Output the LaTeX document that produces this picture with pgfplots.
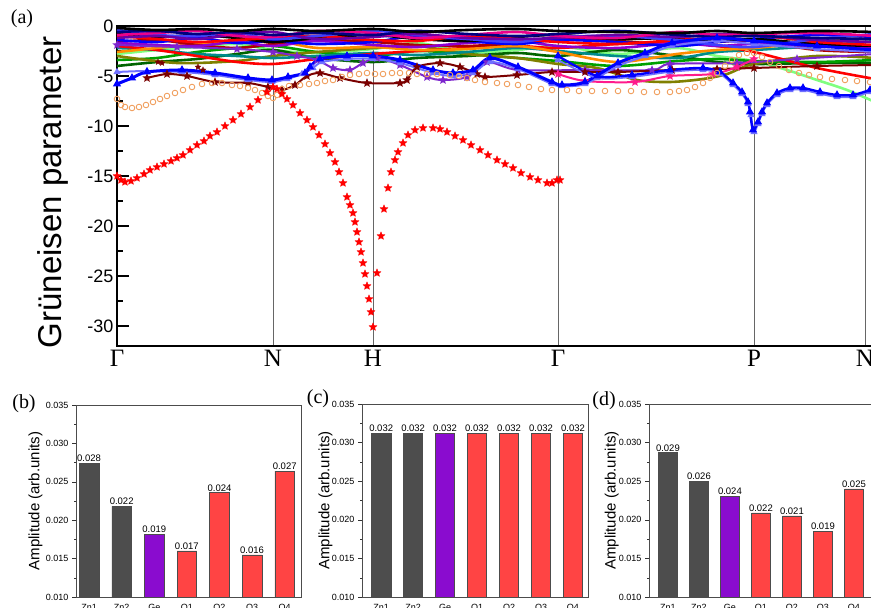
\documentclass[border=0pt]{standalone}
\usepackage{fontspec}
\setmainfont{Liberation Serif}
\newfontfamily\arial{Liberation Sans}
\usepackage{pgfplots}
\pgfplotsset{compat=1.18}
\usetikzlibrary{plotmarks}

\pgfdeclareplotmark{fstar}{%
  \pgfpathmoveto{\pgfpointpolar{90}{\pgfplotmarksize}}%
  \pgfpathlineto{\pgfpointpolar{126}{0.45\pgfplotmarksize}}%
  \pgfpathlineto{\pgfpointpolar{162}{\pgfplotmarksize}}%
  \pgfpathlineto{\pgfpointpolar{198}{0.45\pgfplotmarksize}}%
  \pgfpathlineto{\pgfpointpolar{234}{\pgfplotmarksize}}%
  \pgfpathlineto{\pgfpointpolar{270}{0.45\pgfplotmarksize}}%
  \pgfpathlineto{\pgfpointpolar{306}{\pgfplotmarksize}}%
  \pgfpathlineto{\pgfpointpolar{342}{0.45\pgfplotmarksize}}%
  \pgfpathlineto{\pgfpointpolar{18}{\pgfplotmarksize}}%
  \pgfpathlineto{\pgfpointpolar{54}{0.45\pgfplotmarksize}}%
  \pgfpathclose
  \pgfusepathqfillstroke
}

\definecolor{cnavy}{HTML}{000080}
\definecolor{cviolet}{HTML}{6A00A8}
\definecolor{cpurple}{HTML}{9000D0}
\definecolor{corange}{HTML}{FF8C00}
\definecolor{cteal}{HTML}{008B8B}
\definecolor{cgreen}{HTML}{00A000}
\definecolor{cdgreen}{HTML}{006400}
\definecolor{clgreen}{HTML}{7FFF7F}
\definecolor{colive}{HTML}{808000}
\definecolor{cvblue}{HTML}{4040FF}
\definecolor{cdred}{HTML}{B00000}
\definecolor{cmaroon}{HTML}{7A0000}
\definecolor{cpurple2}{HTML}{7D26CD}
\definecolor{clblue}{HTML}{7070FF}
\definecolor{cpink}{HTML}{FF1A8C}
\definecolor{corc}{HTML}{F0A060}
\definecolor{barGray}{HTML}{4D4D4D}
\definecolor{barPurple}{HTML}{8A0CCF}
\definecolor{barRed}{HTML}{FF4444}

\pgfplotsset{
  band/.style={line width=2.6pt, smooth, no markers},
  barax/.style={
    scale only axis, anchor=south west,
    ymin=0.010, ymax=0.035,
    ytick={0.010,0.015,0.020,0.025,0.030,0.035},
    minor y tick num=1,
    yticklabel style={font=\arial\fontsize{9}{9}\selectfont,
      /pgf/number format/.cd, fixed, fixed zerofill, precision=3, assume math mode=true},
    scaled y ticks=false,
    xtick={0,1,2,3,4,5,6},
    xticklabels={Zn1,Zn2,Ge,O1,O2,O3,O4},
    xticklabel style={font=\arial\fontsize{9}{9}\selectfont},
    xtick style={draw=none},
    ytick pos=left,
    tick align=outside,
    major tick length=4pt, minor tick length=2pt,
    tick style={black!80},
    axis line style={line width=0.8pt, black!70},
    ylabel={Amplitude (arb.units)},
    ylabel style={font=\arial\fontsize{15}{15}\selectfont, anchor=center},
    ybar, bar width=0.6,
    nodes near coords, point meta=explicit symbolic,
    nodes near coords style={font=\arial\fontsize{9.5}{9.5}\selectfont, inner sep=1.2pt, black},
    every axis plot/.append style={bar shift=0pt, draw=black!70, line width=0.5pt},
  }
}

\begin{document}
\begin{tikzpicture}[x=1pt,y=1pt]
\useasboundingbox (0,0) rectangle (871,608);
\clip (0,0) rectangle (871,608);

\node[font=\fontsize{20}{20}\selectfont] at (22,589) {(a)};
\node[font=\fontsize{20}{20}\selectfont] at (24,204) {(b)};
\node[font=\fontsize{20}{20}\selectfont] at (318,209) {(c)};
\node[font=\fontsize{20}{20}\selectfont] at (604,207) {(d)};

\begin{axis}[
  at={(117pt,262pt)}, anchor=south west, scale only axis,
  width=758pt, height=320pt,
  xmin=0, xmax=758, ymin=-32, ymax=0,
  axis line style={line width=1.6pt},
  xtick={0,156,256,441,637,748},
  xticklabels={Γ,N,H,Γ,P,N},
  xticklabel style={font=\fontsize{25}{25}\selectfont, yshift=-1pt},
  xtick style={draw=none},
  xmajorgrids, grid style={black!60, line width=0.8pt},
  ytick={-30,-25,-20,-15,-10,-5,0},
  minor y tick num=1, ytick pos=left,
  tick align=inside, major tick length=12pt, minor tick length=6pt,
  ytick style={line width=1.2pt, black},
  yticklabel style={font=\arial\fontsize{18}{18}\selectfont, /pgf/number format/assume math mode=true},
  ylabel={Grüneisen parameter},
  ylabel style={font=\arial\fontsize{33}{33}\selectfont, at={(axis description cs:-0.0845,0.48)}, anchor=center},
]
% ---- dense band ----
\addplot[band, color=clgreen] coordinates {(0,-2.8)(40,-2.4)(80,-2.1)(120,-1.8)(156,-2.4)(200,-2.7)(256,-2.3)(300,-1.7)(350,-2.6)(400,-2.4)(441,-2.0)(500,-2.8)(560,-2.2)(600,-3.0)(637,-3.5)(670,-4.4)(700,-5.4)(730,-6.4)(758,-7.6)};
\addplot[band, color=cdgreen] coordinates {(0,-4.0)(40,-3.6)(80,-3.3)(120,-2.8)(156,-2.4)(200,-3.2)(256,-3.6)(300,-3.2)(350,-3.0)(400,-2.7)(441,-3.0)(500,-2.4)(560,-3.0)(600,-3.6)(637,-3.8)(700,-3.7)(758,-3.7)};
\addplot[band, color=cgreen] coordinates {(0,-3.4)(40,-3.2)(80,-2.6)(120,-2.2)(156,-2.0)(200,-2.6)(256,-3.0)(300,-2.5)(350,-2.8)(400,-3.2)(441,-3.5)(500,-4.0)(560,-3.5)(600,-3.3)(637,-3.5)(700,-3.6)(758,-3.4)};
\addplot[band, color=colive] coordinates {(0,-3.0)(60,-3.7)(120,-3.5)(156,-3.0)(200,-2.6)(256,-2.2)(300,-2.0)(350,-2.8)(400,-3.2)(441,-3.8)(480,-4.2)(520,-5.4)(553,-5.6)(586,-5.3)(610,-4.8)(637,-3.8)(700,-3.0)(758,-3.2)};
\addplot[band, color=cteal] coordinates {(0,-2.2)(40,-2.4)(80,-2.8)(120,-3.0)(156,-3.2)(200,-3.0)(256,-2.7)(300,-2.9)(350,-2.6)(400,-2.2)(441,-2.5)(500,-3.0)(560,-3.2)(600,-2.6)(637,-2.4)(700,-2.0)(758,-1.5)};
\addplot[band, color=red] coordinates {(0,-2.0)(40,-2.4)(80,-3.0)(120,-3.6)(156,-3.8)(200,-3.3)(256,-2.8)(300,-2.5)(350,-2.2)(400,-2.0)(441,-2.2)(500,-1.8)(560,-1.6)(600,-2.0)(637,-2.6)(700,-4.2)(758,-5.3)};
\addplot[band, color=corange] coordinates {(0,-2.6)(40,-2.2)(80,-1.8)(120,-1.6)(156,-1.4)(200,-2.2)(256,-2.1)(300,-2.4)(350,-2.3)(400,-2.0)(441,-2.6)(500,-3.6)(560,-2.8)(600,-2.4)(637,-2.2)(700,-1.6)(758,-1.2)};
\addplot[band, color=cdred] coordinates {(0,-1.6)(40,-1.4)(80,-1.9)(120,-2.2)(156,-1.8)(200,-1.4)(256,-1.6)(300,-1.9)(350,-2.0)(400,-1.7)(441,-1.3)(500,-1.5)(560,-1.9)(600,-1.6)(637,-1.5)(700,-2.4)(758,-2.6)};
\addplot[band, color=cpurple] coordinates {(0,-1.7)(40,-1.9)(80,-2.0)(120,-1.6)(156,-2.0)(200,-1.5)(256,-1.9)(300,-2.1)(350,-1.7)(400,-1.5)(441,-2.0)(500,-2.2)(560,-1.7)(600,-2.0)(637,-1.8)(700,-2.0)(758,-2.2)};
\addplot[band, color=blue] coordinates {(0,-1.4)(40,-1.6)(80,-1.2)(120,-1.7)(156,-1.5)(200,-1.8)(256,-1.6)(300,-1.0)(350,-1.5)(400,-1.8)(441,-1.4)(500,-1.6)(560,-2.0)(600,-1.6)(637,-1.3)(700,-0.9)(758,-1.1)};
\addplot[band, color=black] coordinates {(0,-0.8)(40,-1.1)(80,-0.9)(120,-1.2)(156,-1.6)(200,-1.2)(256,-0.9)(300,-1.3)(350,-1.5)(400,-1.1)(441,-0.9)(500,-1.3)(560,-1.2)(600,-1.5)(637,-1.3)(700,-1.8)(758,-2.0)};
\addplot[band, color=red] coordinates {(0,-1.0)(40,-1.3)(80,-1.6)(120,-1.4)(156,-1.2)(200,-1.0)(256,-1.4)(300,-1.5)(350,-1.0)(400,-1.3)(441,-1.6)(500,-1.8)(560,-1.4)(600,-1.2)(637,-0.9)(700,-1.6)(758,-1.9)};
\addplot[band, color=cvblue] coordinates {(0,-0.4)(40,-0.9)(80,-1.0)(120,-0.7)(156,-1.3)(200,-1.0)(256,-0.5)(300,-0.9)(350,-1.3)(400,-1.6)(441,-1.1)(500,-1.0)(560,-1.4)(600,-1.9)(637,-2.1)(700,-1.3)(758,-0.8)};
\addplot[band, color=cviolet] coordinates {(0,-1.2)(40,-1.0)(80,-1.3)(120,-0.8)(156,-0.6)(200,-1.3)(256,-1.1)(300,-0.8)(350,-1.2)(400,-1.3)(441,-1.2)(500,-0.9)(560,-1.1)(600,-0.8)(637,-0.9)(700,-1.4)(758,-1.6)};
\addplot[band, color=magenta] coordinates {(0,-0.9)(40,-0.7)(80,-0.5)(120,-1.0)(156,-1.1)(200,-0.5)(256,-0.7)(300,-1.2)(350,-0.9)(400,-0.6)(441,-1.0)(500,-1.2)(560,-0.6)(600,-0.9)(637,-0.8)(700,-0.7)(758,-1.0)};
\addplot[band, color=cnavy] coordinates {(0,-0.6)(40,-0.5)(80,-0.8)(120,-0.6)(156,-0.9)(200,-0.7)(256,-0.9)(300,-0.5)(350,-0.8)(400,-1.0)(441,-0.8)(500,-0.5)(560,-0.9)(600,-1.1)(637,-1.0)(700,-1.2)(758,-1.3)};
\addplot[band, color=black] coordinates {(0,-0.2)(40,-0.4)(80,-0.3)(120,-0.5)(156,-0.3)(200,-0.5)(256,-0.3)(300,-0.6)(350,-0.4)(400,-0.3)(441,-0.5)(500,-0.6)(560,-0.7)(600,-0.5)(637,-0.7)(700,-0.5)(758,-0.6)};
% ---- distinct curves ----
\addplot[color=cpurple2, line width=2pt, smooth, mark=fstar, mark size=2.2pt, mark options={fill=cpurple2}] coordinates {(0,-1.9)(60,-2.1)(120,-2.3)(156,-2.6)(180,-3.0)(200,-3.4)(216,-4.2)(233,-4.4)(246,-3.7)(260,-3.2)(283,-3.9)(310,-5.1)(326,-5.4)(350,-5.1)(370,-3.6)(401,-4.4)(468,-4.4)(535,-4.4)(553,-3.8)(620,-3.7)(680,-3.3)(758,-2.8)};
\addplot[color=cmaroon, line width=2pt, smooth, mark=fstar, mark size=2.2pt, mark options={fill=cmaroon}] coordinates {(30,-5.2)(50,-4.8)(70,-5.0)(98,-5.6)(131,-5.7)(151,-6.1)(165,-6.4)(178,-5.9)(190,-5.0)(203,-4.7)(223,-5.2)(250,-5.7)(283,-5.7)(290,-5.4)(300,-4.1)(323,-3.7)(343,-4.1)(360,-4.8)(368,-5.1)(400,-4.9)(435,-4.6)(468,-4.6)(501,-4.6)(555,-4.4)(600,-4.3)(637,-4.2)(700,-4.0)(758,-3.9)};
\addplot[only marks, color=cmaroon, mark=fstar, mark size=3pt, mark options={fill=cmaroon}] coordinates {(41,-3.6)(45,-3.7)(81,-4.1)(86,-4.4)};
\addplot[color=cpink, line width=2pt, smooth, mark=fstar, mark size=2.2pt, mark options={fill=cpink}] coordinates {(441,-4.8)(468,-5.5)(518,-5.6)(553,-5.0)(596,-4.8)(620,-4.1)(637,-3.3)};
\addplot[color=clblue, line width=2pt, smooth, mark=triangle, mark size=2.2pt] coordinates {(0,-4.6)(30,-4.5)(65,-4.6)(98,-4.9)(131,-5.4)(155,-5.6)(170,-5.3)(185,-4.8)(196,-4.2)(205,-3.6)(230,-3.3)(256,-3.3)(283,-3.7)(316,-4.7)(336,-5.0)(356,-4.7)(373,-3.6)(401,-4.3)(435,-5.8)(445,-6.0)(468,-5.8)(501,-4.0)(528,-3.0)(555,-2.0)(600,-1.5)(637,-1.8)(700,-2.3)(758,-2.6)};
\addplot[color=blue, line width=3pt, smooth, mark=triangle*, mark size=1.8pt] coordinates {(0,-5.8)(15,-5.2)(30,-4.6)(65,-4.4)(98,-4.7)(131,-5.2)(155,-5.4)(171,-5.1)(188,-4.7)(193,-4.1)(203,-3.3)(230,-3.0)(256,-3.0)(283,-3.4)(316,-4.4)(336,-4.7)(356,-4.4)(373,-3.2)(401,-4.1)(435,-5.6)(445,-5.9)(468,-5.6)(501,-3.7)(528,-2.7)(555,-1.7)(600,-1.2)(637,-1.5)(700,-2.0)(758,-2.4)};
\addplot[color=clblue, line width=1.6pt, smooth, mark=triangle, mark size=2.6pt] coordinates {(441,-3.4)(480,-5.2)(515,-5.1)(553,-4.6)(586,-4.4)(603,-4.8)(616,-5.9)(625,-6.8)(631,-7.8)(634,-8.9)(637,-10.6)(641,-9.8)(645,-8.8)(650,-7.9)(660,-6.9)(673,-6.4)(686,-6.4)(703,-6.8)(720,-7.1)(736,-7.1)(753,-6.6)};
\addplot[color=blue, line width=2.4pt, smooth, mark=triangle*, mark size=2.4pt] coordinates {(441,-3.0)(480,-5.0)(515,-4.9)(553,-4.4)(586,-4.2)(603,-4.6)(616,-5.7)(625,-6.6)(631,-7.6)(633,-8.6)(636,-10.4)(641,-9.6)(645,-8.6)(650,-7.7)(660,-6.7)(673,-6.2)(686,-6.2)(703,-6.6)(720,-6.9)(736,-6.9)(753,-6.4)};
% orange open circles
\addplot[only marks, color=corc, mark=o, mark size=2.8pt, mark options={line width=0.9pt}] coordinates {(0,-7.3)(4,-7.9)(8,-8.1)(15,-8.2)(22,-8.1)(29,-7.9)(36,-7.6)(43,-7.3)(50,-7.0)(58,-6.7)(66,-6.4)(75,-6.1)(85,-5.8)(95,-5.7)(105,-5.7)(115,-5.9)(123,-6.0)(131,-6.2)(138,-6.4)(145,-6.7)(151,-7.0)(156,-7.2)(160,-6.9)(165,-6.3)(172,-6.0)(183,-5.9)(192,-5.8)(200,-5.7)(208,-5.5)(216,-5.4)(225,-5.1)(233,-4.9)(242,-4.8)(250,-4.7)(258,-4.8)(266,-4.8)(275,-4.7)(283,-4.7)(292,-4.7)(300,-4.8)(310,-4.8)(320,-4.8)(333,-4.9)(342,-5.0)(350,-5.2)(358,-5.4)(368,-5.6)(380,-5.7)(390,-5.8)(401,-5.9)(412,-6.1)(424,-6.3)(435,-6.4)(450,-6.4)(462,-6.5)(475,-6.5)(488,-6.5)(501,-6.5)(514,-6.5)(527,-6.6)(540,-6.6)(553,-6.6)(562,-6.5)(570,-6.4)(578,-6.1)(586,-5.7)(593,-5.2)(600,-4.7)(608,-4.0)(615,-3.4)(622,-2.9)(630,-2.7)(637,-2.7)(645,-3.1)(653,-3.6)(662,-4.0)(672,-4.4)(682,-4.7)(692,-4.9)(703,-5.1)(715,-5.3)(728,-5.4)(740,-5.5)(753,-5.6)};
% red stars
\addplot[only marks, color=red, mark=fstar, mark size=4.2pt, mark options={fill=red, line width=0.3pt}] coordinates {(0,-15.0)(4,-15.4)(8,-15.6)(14,-15.5)(20,-15.2)(27,-14.8)(33,-14.4)(40,-14.1)(47,-13.8)(54,-13.5)(60,-13.2)(66,-12.9)(73,-12.4)(80,-11.9)(87,-11.5)(93,-11.0)(100,-10.6)(108,-10.0)(116,-9.4)(124,-8.8)(133,-8.1)(141,-7.4)(150,-6.6)(156,-6.1)(160,-6.3)(165,-6.8)(170,-7.3)(176,-7.9)(183,-8.7)(190,-9.4)(196,-10.1)(202,-10.9)(208,-11.8)(213,-12.7)(218,-13.6)(222,-14.6)(226,-15.7)(230,-17.1)(233,-17.9)(236,-18.7)(238,-19.6)(240,-20.6)(242,-21.6)(244,-22.6)(246,-23.7)(248,-24.8)(250,-26.0)(252,-27.3)(254,-28.6)(256,-30.1)(260,-24.7)(264,-21.0)(267,-18.3)(271,-16.2)(274,-14.6)(278,-13.4)(281,-12.6)(286,-11.7)(291,-10.9)(298,-10.4)(306,-10.2)(316,-10.2)(323,-10.3)(330,-10.6)(338,-11.0)(346,-11.4)(354,-11.9)(363,-12.4)(371,-12.9)(380,-13.4)(388,-13.8)(396,-14.2)(404,-14.7)(413,-15.1)(421,-15.4)(430,-15.7)(435,-15.7)(440,-15.4)(443,-15.4)};
\end{axis}

% ---- (b) ----
\begin{axis}[barax, at={(76pt,11pt)}, width=225pt, height=192pt, xmin=-0.4, xmax=6.5,
  ylabel style={at={(axis description cs:-0.18,0.5)}}]
\addplot[fill=barGray] coordinates {(0,0.0274)[0.028] (1,0.0218)[0.022]};
\addplot[fill=barPurple] coordinates {(2,0.0182)[0.019]};
\addplot[fill=barRed] coordinates {(3,0.0160)[0.017] (4,0.0236)[0.024] (5,0.0155)[0.016] (6,0.0264)[0.027]};
\end{axis}

% ---- (c) ----
\begin{axis}[barax, at={(362pt,11pt)}, width=226pt, height=193pt, xmin=-0.6, xmax=6.47,
  ylabel style={at={(axis description cs:-0.162,0.5)}}]
\addplot[fill=barGray] coordinates {(0,0.0312)[0.032] (1,0.0312)[0.032]};
\addplot[fill=barPurple] coordinates {(2,0.0312)[0.032]};
\addplot[fill=barRed] coordinates {(3,0.0312)[0.032] (4,0.0312)[0.032] (5,0.0312)[0.032] (6,0.0312)[0.032]};
\end{axis}

% ---- (d) ----
\begin{axis}[barax, at={(649pt,11pt)}, width=224pt, height=193pt, xmin=-0.61, xmax=6.615,
  ylabel style={at={(axis description cs:-0.166,0.5)}}]
\addplot[fill=barGray] coordinates {(0,0.0287)[0.029] (1,0.0250)[0.026]};
\addplot[fill=barPurple] coordinates {(2,0.0231)[0.024]};
\addplot[fill=barRed] coordinates {(3,0.0209)[0.022] (4,0.0205)[0.021] (5,0.0185)[0.019] (6,0.0240)[0.025]};
\end{axis}
\end{tikzpicture}
\end{document}
